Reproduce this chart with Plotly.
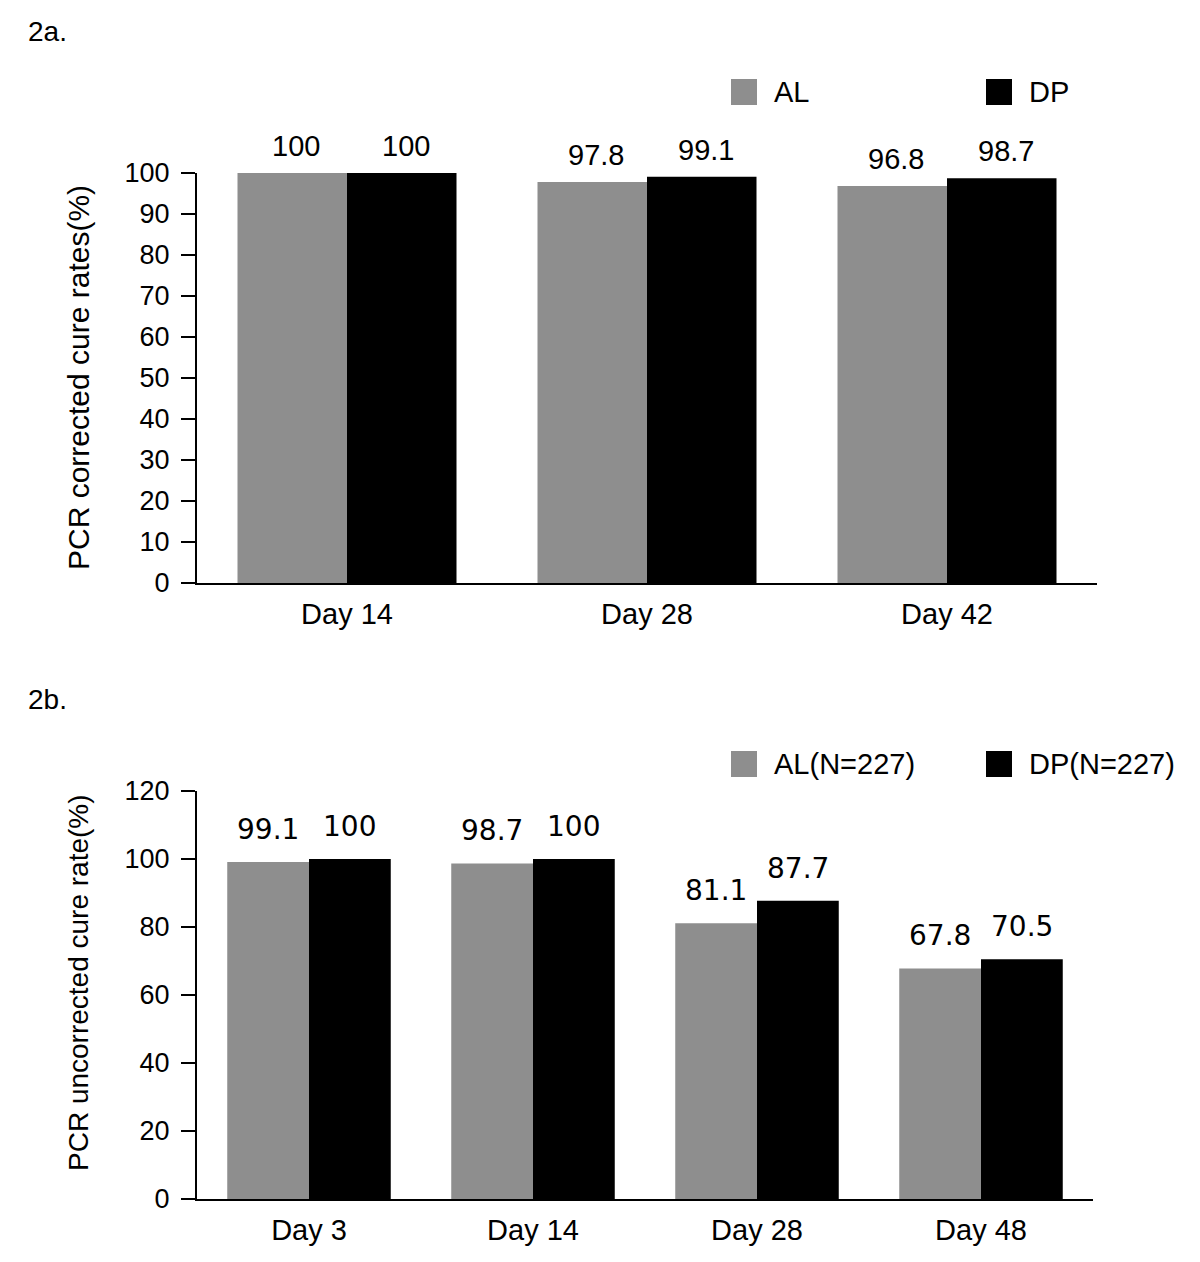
import plotly.graph_objects as go

# ---- data ----
cats_a = ["Day 14", "Day 28", "Day 42"]
al_a = [100, 97.8, 96.8]
dp_a = [100, 99.1, 98.7]

cats_b = ["Day 3", "Day 14", "Day 28", "Day 48"]
al_b = [99.1, 98.7, 81.1, 67.8]
dp_b = [100, 100, 87.7, 70.5]

names_a = ["AL", "DP"]
names_b = ["AL(N=227)", "DP(N=227)"]
yticks_a = list(range(0, 101, 10))
yticks_b = list(range(0, 121, 20))

W, H = 1200, 1262
OFF = 8  # default page body margin
GRAY = "#8e8e8e"
BLACK = "#000000"
ARIAL = "Liberation Sans, Arial, sans-serif"
VERD = "DejaVu Sans, Verdana, sans-serif"

def px_x(x):
    return (x - OFF) / W

def px_y(y):
    return 1 - (y - OFF) / H

fig = go.Figure()

fig.add_trace(go.Bar(x=cats_a, y=al_a, name=names_a[0], marker=dict(color=GRAY, line=dict(width=0)),
                     xaxis="x", yaxis="y", showlegend=False))
fig.add_trace(go.Bar(x=cats_a, y=dp_a, name=names_a[1], marker=dict(color=BLACK, line=dict(width=0)),
                     xaxis="x", yaxis="y", showlegend=False))
fig.add_trace(go.Bar(x=cats_b, y=al_b, name=names_b[0], marker=dict(color=GRAY, line=dict(width=0)),
                     xaxis="x2", yaxis="y2", showlegend=False))
fig.add_trace(go.Bar(x=cats_b, y=dp_b, name=names_b[1], marker=dict(color=BLACK, line=dict(width=0)),
                     xaxis="x2", yaxis="y2", showlegend=False))

annotations = []
# data labels
bw_a = 900 / 3 * 0.73 / 2
for vals, sh in ((al_a, -bw_a / 2), (dp_a, bw_a / 2)):
    for c, v in zip(cats_a, vals):
        annotations.append(dict(x=c, y=v, xref="x", yref="y", text=f"{v:g}", showarrow=False,
                                yanchor="bottom", xshift=sh + 4, yshift=9,
                                font=dict(family=ARIAL, size=29, color="black")))
bw_b = 896 / 4 * 0.728 / 2
for vals, sh in ((al_b, -bw_b / 2), (dp_b, bw_b / 2)):
    for c, v in zip(cats_b, vals):
        annotations.append(dict(x=c, y=v, xref="x2", yref="y2", text=f"{v:g}", showarrow=False,
                                yanchor="bottom", xshift=sh, yshift=14,
                                font=dict(family=VERD, size=28, color="black")))

# panel labels
annotations.append(dict(x=px_x(26), y=px_y(31), xref="paper", yref="paper", text="2a.", showarrow=False,
                        xanchor="left", yanchor="middle", font=dict(family=ARIAL, size=28, color="black")))
annotations.append(dict(x=px_x(26), y=px_y(699), xref="paper", yref="paper", text="2b.", showarrow=False,
                        xanchor="left", yanchor="middle", font=dict(family=ARIAL, size=28, color="black")))

# axis titles
annotations.append(dict(x=px_x(78), y=px_y(378), xref="paper", yref="paper", text="PCR corrected cure rates(%)",
                        showarrow=False, textangle=-90, xanchor="center", yanchor="middle",
                        font=dict(family=ARIAL, size=30, color="black")))
annotations.append(dict(x=px_x(78), y=px_y(983), xref="paper", yref="paper", text="PCR uncorrected cure rate(%)",
                        showarrow=False, textangle=-90, xanchor="center", yanchor="middle",
                        font=dict(family=ARIAL, size=28, color="black")))

# legends
shapes = []
for names, yc in ((names_a, 92), (names_b, 764)):
    for name, col, x0 in zip(names, (GRAY, BLACK), (731, 986)):
        shapes.append(dict(type="rect", xref="paper", yref="paper",
                           x0=px_x(x0), x1=px_x(x0 + 26), y0=px_y(yc + 13), y1=px_y(yc - 13),
                           fillcolor=col, line=dict(width=0)))
        annotations.append(dict(x=px_x(x0 + 41), y=px_y(yc), xref="paper", yref="paper", text=name,
                                showarrow=False, xanchor="left", yanchor="middle",
                                font=dict(family=ARIAL, size=29, color="black")))

axis_common = dict(showline=True, linecolor="black", linewidth=2, showgrid=False, zeroline=False,
                   automargin=False)
xfont = dict(family=ARIAL, size=29, color="black")
yfont = dict(family=ARIAL, size=27, color="black")

fig.update_layout(
    width=W, height=H,
    margin=dict(l=0, r=0, t=0, b=0, pad=0, autoexpand=False),
    paper_bgcolor="white", plot_bgcolor="white",
    showlegend=False,
    barmode="group", bargap=0.27, bargroupgap=0,
    xaxis=dict(domain=[px_x(197), px_x(1097)], anchor="y", ticks="", tickfont=xfont,
               ticklabelstandoff=4, **axis_common),
    yaxis=dict(domain=[px_y(583), px_y(173)], anchor="x", range=[0, 100], tickvals=yticks_a,
               ticks="outside", ticklen=14, tickwidth=2, tickcolor="black", tickfont=yfont,
               ticklabelstandoff=6, **axis_common),
    xaxis2=dict(domain=[px_x(197), px_x(1093)], anchor="y2", ticks="", tickfont=xfont,
                ticklabelstandoff=4, **axis_common),
    yaxis2=dict(domain=[px_y(1199), px_y(791)], anchor="x2", range=[0, 120], tickvals=yticks_b,
                ticks="outside", ticklen=14, tickwidth=2, tickcolor="black", tickfont=yfont,
                ticklabelstandoff=6, **axis_common),
    annotations=annotations,
    shapes=shapes,
)

fig.write_html("out.html")
